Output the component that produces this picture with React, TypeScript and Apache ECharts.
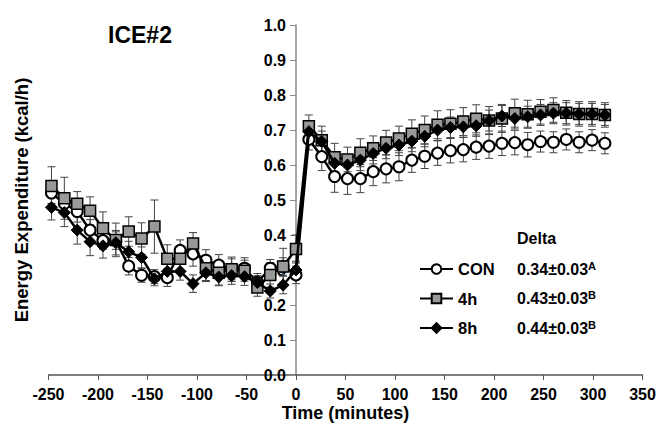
import React, { useEffect, useRef } from "react";
import * as echarts from "echarts";

// Time points (minutes)
const times = [
  -247, -234, -221, -208, -195, -182, -169, -156, -143, -130, -117, -104, -91, -78, -65, -52, -39, -26, -13, 0,
  13, 26, 39, 52, 65, 78, 91, 104, 117, 130, 143, 156, 169, 182, 195, 208, 221, 234, 247, 260, 273, 286, 299, 312,
];

const conValues = [
  0.52, 0.49, 0.467, 0.414, 0.384, 0.384, 0.311, 0.285, 0.281, 0.278, 0.356, 0.346, 0.328, 0.314, 0.302, 0.305, 0.265, 0.305, 0.31, 0.286,
  0.673, 0.624, 0.567, 0.561, 0.561, 0.581, 0.589, 0.595, 0.614, 0.625, 0.634, 0.641, 0.644, 0.651, 0.654, 0.662, 0.664, 0.658, 0.667, 0.665, 0.673, 0.665, 0.671, 0.662,
];
const conErr = [
  0.03, 0.03, 0.03, 0.03, 0.025, 0.025, 0.025, 0.02, 0.02, 0.025, 0.03, 0.035, 0.03, 0.03, 0.03, 0.03, 0.025, 0.025, 0.025, 0.025,
  0.03, 0.04, 0.045, 0.045, 0.04, 0.04, 0.04, 0.04, 0.035, 0.035, 0.035, 0.035, 0.035, 0.035, 0.035, 0.035, 0.035, 0.035, 0.03, 0.03, 0.03, 0.03, 0.03, 0.03,
];

const h4Values = [
  0.54, 0.505, 0.489, 0.469, 0.419, 0.386, 0.41, 0.39, 0.424, 0.332, 0.332, 0.376, 0.305, 0.292, 0.302, 0.298, 0.25, 0.286, 0.31, 0.36,
  0.711, 0.671, 0.622, 0.616, 0.635, 0.648, 0.664, 0.676, 0.689, 0.7, 0.715, 0.718, 0.724, 0.732, 0.727, 0.733, 0.748, 0.745, 0.752, 0.757, 0.749, 0.746, 0.746, 0.743,
];
const h4Err = [
  0.055, 0.06, 0.035, 0.04, 0.047, 0.048, 0.042, 0.045, 0.076, 0.04, 0.035, 0.031, 0.035, 0.035, 0.035, 0.03, 0.025, 0.035, 0.052, 0.04,
  0.032, 0.04, 0.04, 0.035, 0.04, 0.035, 0.035, 0.035, 0.04, 0.04, 0.04, 0.04, 0.04, 0.04, 0.04, 0.04, 0.04, 0.04, 0.035, 0.035, 0.035, 0.035, 0.035, 0.035,
];

const h8Values = [
  0.479, 0.464, 0.414, 0.381, 0.369, 0.378, 0.352, 0.336, 0.275, 0.296, 0.296, 0.261, 0.292, 0.28, 0.284, 0.281, 0.264, 0.24, 0.257, 0.3,
  0.695, 0.667, 0.605, 0.6, 0.614, 0.633, 0.648, 0.657, 0.668, 0.682, 0.7, 0.707, 0.709, 0.712, 0.727, 0.74, 0.733, 0.738, 0.743, 0.748, 0.748, 0.746, 0.746, 0.743,
];
const h8Err = [
  0.036, 0.04, 0.04, 0.04, 0.035, 0.035, 0.03, 0.03, 0.02, 0.03, 0.025, 0.025, 0.025, 0.025, 0.025, 0.025, 0.02, 0.02, 0.025, 0.025,
  0.03, 0.03, 0.03, 0.03, 0.03, 0.03, 0.03, 0.03, 0.03, 0.03, 0.03, 0.03, 0.03, 0.03, 0.03, 0.03, 0.03, 0.03, 0.03, 0.03, 0.03, 0.03, 0.03, 0.03,
];

const seriesNames = ["CON", "4h", "8h"];
const deltaValues = ["0.34±0.03", "0.43±0.03", "0.44±0.03"];
const deltaLetters = ["A", "B", "B"];

const FONT = "Liberation Sans, Arial, sans-serif";

function errorSeries(values: number[], errs: number[], z: number) {
  return {
    type: "custom",
    z,
    silent: true,
    encode: { x: 0, y: 1 },
    data: times.map((t, i) => [t, values[i], errs[i]]),
    renderItem: (params: any, api: any) => {
      const x = api.value(0);
      const y = api.value(1);
      const e = api.value(2);
      const top = api.coord([x, y + e]);
      const bot = api.coord([x, y - e]);
      const hw = 4;
      const style = { stroke: "#444", lineWidth: 1 };
      return {
        type: "group",
        children: [
          { type: "line", shape: { x1: top[0], y1: top[1], x2: bot[0], y2: bot[1] }, style },
          { type: "line", shape: { x1: top[0] - hw, y1: top[1], x2: top[0] + hw, y2: top[1] }, style },
          { type: "line", shape: { x1: bot[0] - hw, y1: bot[1], x2: bot[0] + hw, y2: bot[1] }, style },
        ],
      };
    },
  };
}

const GRID_LEFT = 48.5;
const GRID_RIGHT = 24.5;
const X_MIN = -250;
const X_MAX = 350;

export default function App() {
  const ref = useRef<HTMLDivElement>(null);
  useEffect(() => {
    if (!ref.current) return;
    const chart = echarts.init(ref.current, null, { renderer: "svg" });
    const lineStyle = { color: "#000", width: 2.5 };
    const gridWidth = 667 - GRID_LEFT - GRID_RIGHT;
    // place the y axis line at x = 0 of the time axis
    const yOffset = -((0 - X_MIN) / (X_MAX - X_MIN)) * gridWidth;
    const option: any = {
      animation: false,
      backgroundColor: "#fff",
      grid: { left: GRID_LEFT, right: GRID_RIGHT, top: 25, bottom: 50, containLabel: false, outerBoundsMode: "none" },
      xAxis: {
        type: "value",
        min: X_MIN,
        max: X_MAX,
        interval: 50,
        name: "Time (minutes)",
        nameLocation: "middle",
        nameGap: 28,
        nameMoveOverlap: false,
        nameTextStyle: { fontFamily: FONT, fontWeight: "bold", fontSize: 18, lineHeight: 20, color: "#000" },
        axisLine: { onZero: false, lineStyle: { color: "#555", width: 1.5 } },
        axisTick: { show: true, inside: false, length: 5, lineStyle: { color: "#555" } },
        axisLabel: { fontFamily: FONT, fontWeight: "bold", fontSize: 16, color: "#000", margin: 11, hideOverlap: false },
        splitLine: { show: false },
      },
      yAxis: {
        type: "value",
        min: 0,
        max: 1,
        interval: 0.1,
        offset: yOffset,
        name: "Energy Expenditure (kcal/h)",
        nameLocation: "middle",
        nameGap: 265,
        nameMoveOverlap: false,
        nameTextStyle: { fontFamily: FONT, fontWeight: "bold", fontSize: 18.5, color: "#000" },
        axisLine: { show: true, onZero: false, lineStyle: { color: "#888", width: 1.5 } },
        axisTick: { show: true, inside: false, length: 6, lineStyle: { color: "#888" } },
        axisLabel: {
          fontFamily: FONT,
          fontWeight: "bold",
          fontSize: 16,
          color: "#000",
          margin: 10,
          formatter: (v: number) => v.toFixed(1),
        },
        splitLine: { show: false },
      },
      legend: {
        orient: "vertical",
        left: 419,
        top: 260,
        padding: 0,
        itemWidth: 33,
        itemHeight: 12,
        itemGap: 11.5,
        data: seriesNames,
        textStyle: { fontFamily: FONT, fontWeight: "bold", fontSize: 16.5, color: "#000", lineHeight: 18 },
      },
      graphic: [
        {
          type: "text",
          x: 140,
          y: 35,
          style: {
            text: "ICE#2",
            fontFamily: FONT,
            fontWeight: "bold",
            fontSize: 23,
            fill: "#000",
            align: "center",
            verticalAlign: "middle",
          },
        },
        {
          type: "text",
          x: 517,
          y: 238,
          style: {
            text: "Delta",
            fontFamily: FONT,
            fontWeight: "bold",
            fontSize: 16,
            fill: "#000",
            verticalAlign: "middle",
          },
        },
        ...deltaValues.map((d, i) => ({
          type: "text",
          x: 517,
          y: 269 + i * 29.5,
          style: {
            text: `{v|${d}}{s|${deltaLetters[i]}}`,
            verticalAlign: "middle",
            rich: {
              v: { fontFamily: FONT, fontWeight: "bold", fontSize: 16, fill: "#000", lineHeight: 18 },
              s: { fontFamily: FONT, fontWeight: "bold", fontSize: 11, fill: "#000", lineHeight: 18, verticalAlign: "top" },
            },
          },
        })),
      ],
      series: [
        errorSeries(conValues, conErr, 1),
        errorSeries(h4Values, h4Err, 1),
        errorSeries(h8Values, h8Err, 1),
        {
          name: "CON",
          type: "line",
          z: 3,
          data: times.map((t, i) => [t, conValues[i]]),
          symbol: "circle",
          symbolSize: 11,
          showAllSymbol: true,
          lineStyle,
          itemStyle: { color: "#fff", borderColor: "#000", borderWidth: 2 },
        },
        {
          name: "4h",
          type: "line",
          z: 4,
          data: times.map((t, i) => [t, h4Values[i]]),
          symbol: "rect",
          symbolSize: 11,
          showAllSymbol: true,
          lineStyle,
          itemStyle: { color: "#999", borderColor: "#000", borderWidth: 1.5 },
        },
        {
          name: "8h",
          type: "line",
          z: 5,
          data: times.map((t, i) => [t, h8Values[i]]),
          symbol: "diamond",
          symbolSize: 12,
          showAllSymbol: true,
          lineStyle,
          itemStyle: { color: "#000", borderColor: "#000", borderWidth: 1 },
        },
      ],
    };
    chart.setOption(option);
    return () => chart.dispose();
  }, []);
  return (
    <div
      ref={ref}
      style={{ position: "fixed", left: 0, top: 0, width: 667, height: 425, background: "#fff" }}
    />
  );
}
